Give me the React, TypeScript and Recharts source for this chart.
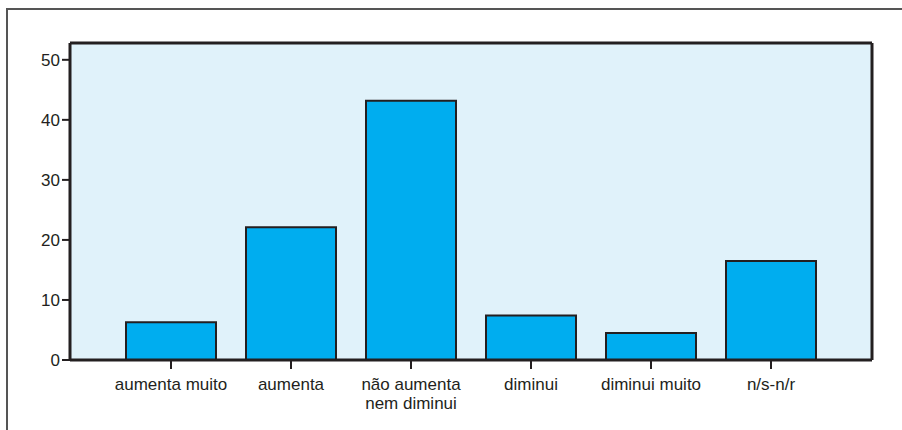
import React from "react";
import { BarChart, Bar, XAxis, YAxis, CartesianGrid } from "recharts";

const categories = [
  "aumenta muito",
  "aumenta",
  "não aumenta\nnem diminui",
  "diminui",
  "diminui muito",
  "n/s-n/r",
];
const values = [6.3, 22.1, 43.2, 7.4, 4.5, 16.5];
const yTicks = [0, 10, 20, 30, 40, 50];

const data = categories.map((c, i) => ({ name: c, value: values[i] }));

const INK = "#231f20";
const FONT = "'Liberation Sans', Arial, sans-serif";

const CategoryTick = (props: any) => {
  const { x, y, payload } = props;
  const lines = String(payload.value).split("\n");
  return (
    <text x={x} y={y} textAnchor="middle" fill={INK} fontSize={17} fontFamily={FONT}>
      {lines.map((l, i) => (
        <tspan key={i} x={x} dy={i === 0 ? 19 : 19}>
          {l}
        </tspan>
      ))}
    </text>
  );
};

const ValueTick = (props: any) => {
  const { x, y, payload } = props;
  return (
    <text x={x} y={y} dy={6} textAnchor="end" fill={INK} fontSize={17} fontFamily={FONT}>
      {payload.value}
    </text>
  );
};

export default function App() {
  return (
    <div style={{ position: "absolute", left: 0, top: 0, width: 902, height: 430, background: "#fff" }}>
      <div style={{ position: "absolute", left: 6, top: 8, width: 896, height: 2, background: "#555" }} />
      <div style={{ position: "absolute", left: 6, top: 8, width: 2, height: 422, background: "#555" }} />
      <BarChart
        width={902}
        height={430}
        data={data}
        margin={{ top: 42, right: 29, left: 0, bottom: 0 }}
        barCategoryGap="12.5%"
        style={{ position: "absolute", left: 0, top: 0 }}
      >
        <CartesianGrid fill="#e0f2fa" horizontal={false} vertical={false} />
        <XAxis
          dataKey="name"
          interval={0}
          padding={{ left: 41, right: 41 }}
          height={70}
          axisLine={{ stroke: INK, strokeWidth: 3 }}
          tickLine={{ stroke: INK, strokeWidth: 2 }}
          tickSize={9}
          tick={<CategoryTick />}
        />
        <XAxis
          xAxisId="top"
          orientation="top"
          dataKey="name"
          height={1}
          tick={false}
          tickLine={false}
          axisLine={{ stroke: INK, strokeWidth: 3 }}
        />
        <YAxis
          domain={[0, 52.8]}
          ticks={yTicks}
          width={70}
          axisLine={{ stroke: INK, strokeWidth: 3 }}
          tickLine={{ stroke: INK, strokeWidth: 2 }}
          tickSize={8}
          tick={<ValueTick />}
        />
        <YAxis
          yAxisId="right"
          orientation="right"
          width={1}
          tick={false}
          tickLine={false}
          axisLine={{ stroke: INK, strokeWidth: 3 }}
        />
        <Bar dataKey="value" fill="#00adef" stroke={INK} strokeWidth={2} isAnimationActive={false} />
      </BarChart>
    </div>
  );
}
